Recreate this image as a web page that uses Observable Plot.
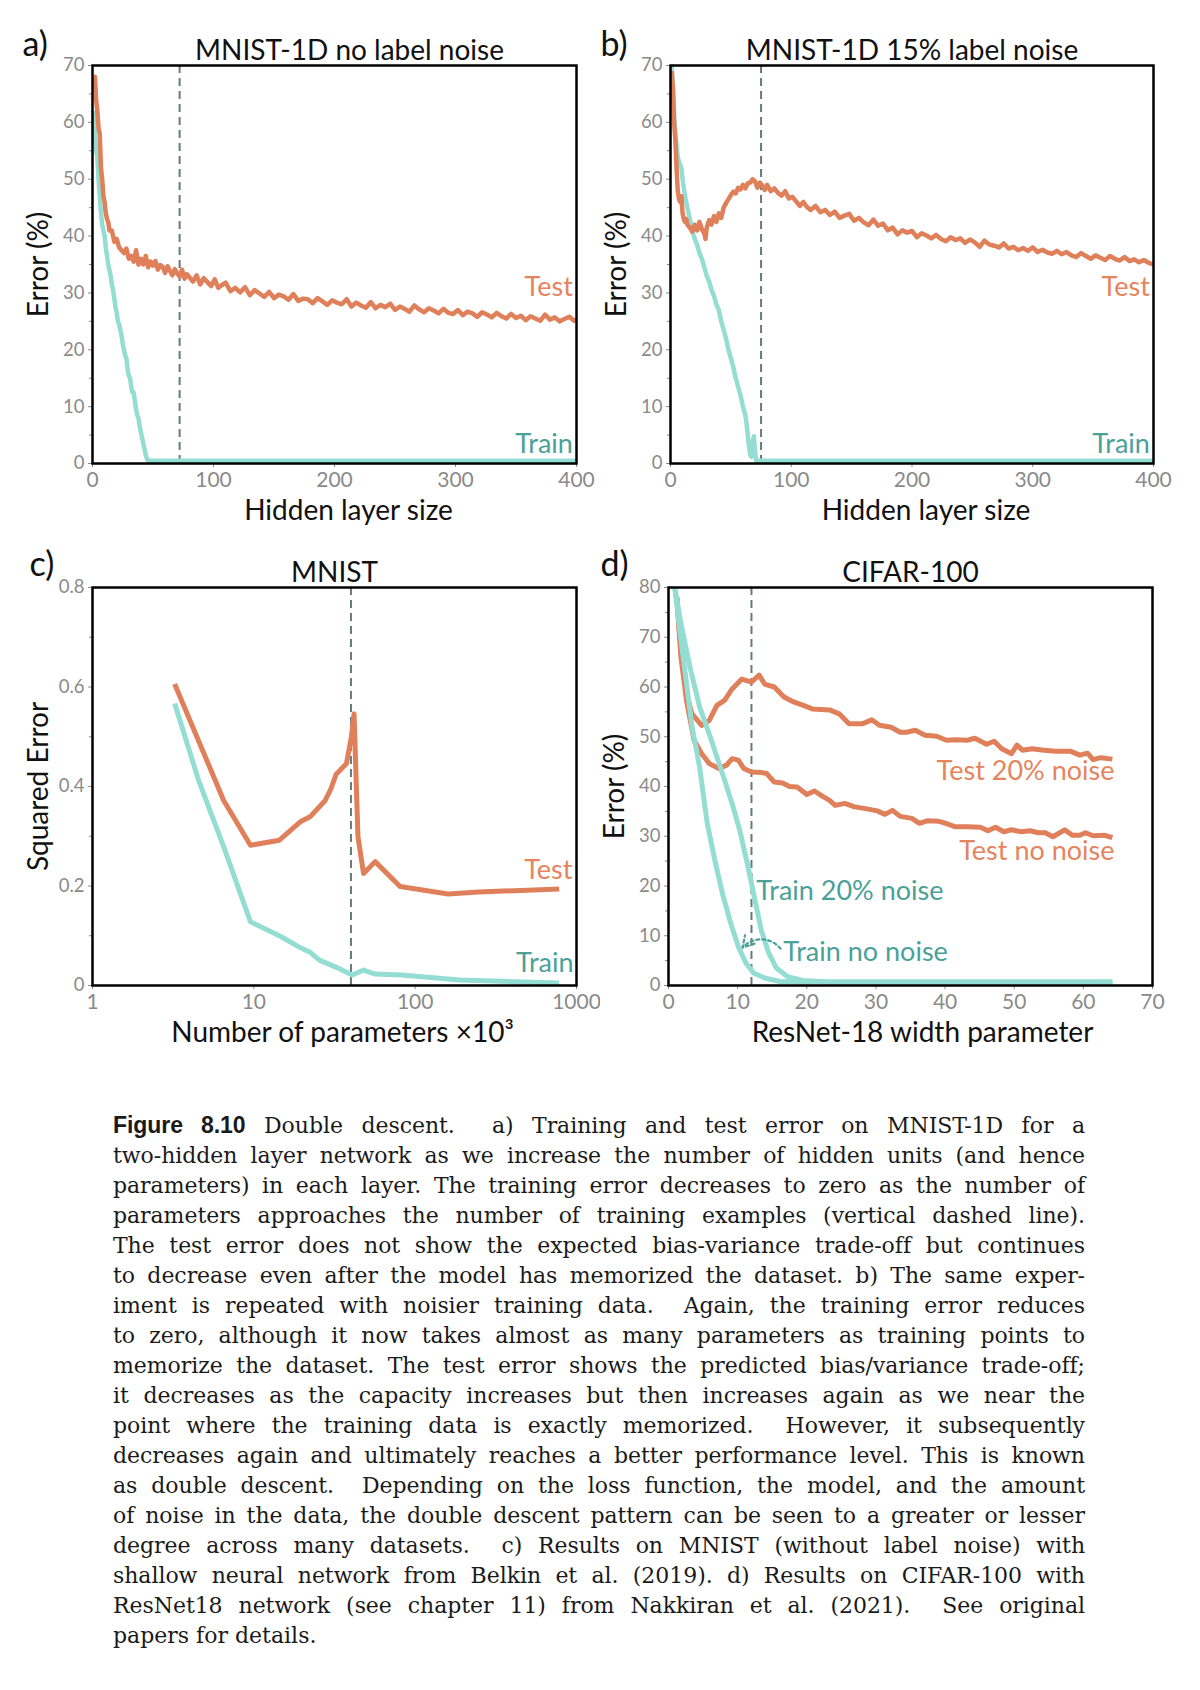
<!DOCTYPE html>
<html><head><meta charset="utf-8">
<script src="https://cdn.jsdelivr.net/npm/d3@7"></script>
<script src="https://cdn.jsdelivr.net/npm/@observablehq/plot@0.6"></script>
<style>
body{margin:0;background:#fff;}
#page{position:relative;width:1200px;height:1690px;background:#fff;overflow:hidden;}
.panel{position:absolute;}
#caption{position:absolute;left:113px;top:1110px;width:972px;font-family:"DejaVu Serif","Liberation Serif",serif;font-size:22px;line-height:30px;color:#1a1a1a;}
#caption .ln{text-align:justify;text-align-last:justify;}
#caption .ln.last{text-align-last:left;}
#caption .ln span.m{white-space:nowrap;}
#caption b{font-family:"Liberation Sans","DejaVu Sans",sans-serif;font-weight:bold;font-size:23px;}
</style>
</head><body>
<div id="page">
  <div class="panel" id="pa" style="left:0;top:0"></div>
  <div class="panel" id="pb" style="left:600px;top:0"></div>
  <div class="panel" id="pc" style="left:0;top:530px"></div>
  <div class="panel" id="pd" style="left:600px;top:530px"></div>
  <div id="caption"></div>
</div>
<script>
// ---------- DATA ----------
// Panel a: MNIST-1D no label noise  [hidden layer size, error %]
const aTest = [[1,68],[2,68],[3,64],[4,62],[5,59],[6,58],[7,52],[8,50],[9,47],[10,46],[11,44],[12,43],[13,42.5],[14,41],[16,41],[18,39],[20,39.5],[22,38],[24,37.5],[26,37],[28,37.8],[30,36],[32,36.5],[34,35.5],[36,37.5],[38,35],[40,36],[42,35],[44,36.5],[46,34.5],[48,35.5],
  [50,34.8],[52,35.6],[54,34.1],[56,34.9],[58,34.6],[60,33.5],[62,34.7],[64,33.9],[66,33.1],[68,34.2],[70,33.4],[72,32.9],[74,34.1],[76,32.5],[78,33.3],[80,32.8],
  [83,32.0],[86,33.1],[89,31.5],[92,32.6],[95,31.9],[98,31.2],[101,32.4],[104,30.9],[107,31.4],[110,31.8],
  [114,30.3],[118,30.9],[122,30.1],[126,31.0],[130,29.6],[134,30.5],[138,29.9],[142,29.3],[146,30.2],[150,29.1],
  [154,29.7],[158,29.4],[162,28.8],[166,29.8],[170,28.6],[174,29.0],[178,28.9],[182,28.2],[186,29.1],[190,28.5],
  [194,27.9],[198,28.7],[202,28.3],[206,28.0],[210,28.9],[214,27.6],[218,28.3],[222,27.8],[226,27.4],[230,28.4],
  [234,27.3],[238,27.9],[242,27.5],[246,28.1],[250,27.0],[254,27.6],[258,27.2],[262,26.7],[266,27.8],[270,27.1],
  [274,26.6],[278,27.3],[282,26.9],[286,26.4],[290,27.2],[294,26.5],[298,26.3],[302,27.0],[306,26.1],[310,26.7],
  [314,26.4],[318,25.8],[322,26.6],[326,26.2],[330,25.7],[334,26.5],[338,25.9],[342,25.5],[346,26.3],[350,25.6],
  [354,26.0],[358,25.2],[362,25.9],[366,25.5],[370,25.1],[374,26.2],[378,25.3],[382,25.7],[386,25.0],[390,25.4],
  [394,25.8],[398,25.1],[400,25.3]];
const aTrain = [[1,62],[2,58],[3,55],[4,54],[5,50],[6,47],[7,44],[8,42],[9,41],[10,40],[11,38],[12,36.5],[13,35],[14,34],[15,33],[16,31.5],[17,30.5],[18,29],[19,27.5],[20,26.5],[21,25],[22,24.5],[23,23.5],[24,22.5],[25,21],[26,20],[27,19],[28,18.5],[29,16.5],[30,15.5],[31,15],[32,13.5],[33,12.5],[34,12.5],[35,11],[36,9.5],[37,8.5],[38,8],[39,6.5],[40,5.5],[41,4.5],[42,3.5],[43,2.5],[44,1.5],[45,0.8],[46,0.5],[400,0.5]];
const aDash = 72;

// Panel b: MNIST-1D 15% label noise
const bTest = [[1,69],[2,66],[3,60],[4,57],[5,52],[6,48],[7,46.5],[8,46],[9,47],[10,44],[11,43],[12,42.5],[13,43],[14,42],[16,41.5],[18,40.8],[20,42],[22,41],[24,42.5],[26,41.2],[28,40.5],[29,39.5],[30,41.5],[32,42.8],[34,42],[36,43.5],[38,42.5],[40,44],[42,43.2],[44,45],[46,45.8],[48,46.5],[50,47.2],[52,47.8],[54,47.5],[56,48.5],[58,48.2],[60,49],[62,48.4],[64,49.3],[66,49.4],[68,50],
  [70,49.6],[72,48.5],[74,49.4],[76,48.9],[78,48.1],[80,49.0],[83,47.9],[86,48.4],[89,47.6],[92,47.1],[95,47.9],[98,46.6],[101,46.9],[104,46.1],[107,45.3],[110,46.0],[113,45.1],[116,44.6],[120,45.3],[124,44.2],[128,44.6],[132,43.7],[136,44.3],[140,43.2],[144,43.6],[148,43.9],[152,42.7],[156,43.2],[160,42.4],[164,41.9],[168,42.9],[172,41.8],[176,42.2],[180,41.0],[184,41.5],[188,40.3],[192,41.0],[196,40.6],[200,40.9],[204,39.8],[208,40.5],[212,40.1],[216,39.6],[220,40.2],[224,39.5],[228,39.1],[232,39.8],[236,39.3],[240,39.6],[244,38.8],[248,39.4],[252,38.9],[256,38.1],[260,39.2],[264,38.5],[268,38.3],[272,38.0],[276,38.7],[280,37.8],[284,38.1],[288,37.5],[292,37.9],[296,37.4],[300,38.0],[304,37.2],[308,37.6],[312,37.1],[316,36.9],[320,37.4],[324,36.8],[328,37.2],[332,36.6],[336,36.3],[340,37.0],[344,36.5],[348,36.0],[352,36.6],[356,36.2],[360,35.8],[364,36.5],[368,36.0],[372,35.7],[376,36.3],[380,35.6],[384,35.9],[388,35.4],[392,35.8],[396,35.3],[400,35.0]];
const bTrain = [[1,70],[2,66],[3,61],[4,58],[5,56],[6,54],[7,53],[8,52.5],[9,52],[10,50],[11,48.5],[12,47],[13,46],[14,45],[15,44],[16,43],[18,41],[20,39.5],[22,38.5],[24,37],[26,36],[28,34.5],[30,33],[32,32],[34,30.5],[36,29.5],[38,28],[40,27],[42,25],[44,23.5],[46,22],[48,20],[50,18.5],[52,17],[54,15],[56,13.5],[58,12],[60,10],[62,8.5],[63,7],[64,5],[65,3],[66,1.5],[67,1.2],[68,3.5],[69,4.8],[70,2],[71,0.5],[400,0.5]];
const bDash = 75;

// Panel c: MNIST (parameters ×10^3, squared error)
const cTestX = [3.23,6.5,9.53,14.4,19.4,22.3,27.7,30.1,32.3,37.5,40.2,41.8,44.2,47.9,56.5,80.6,160,247,781];
const cTestY = [0.606,0.372,0.282,0.292,0.329,0.339,0.372,0.396,0.424,0.446,0.499,0.546,0.299,0.225,0.249,0.199,0.184,0.188,0.194];
const cTrainX = [3.23,4.55,6.5,9.53,14.8,18.9,22.3,25.5,32.7,40.7,47.9,56.5,82.8,188,781];
const cTrainY = [0.567,0.412,0.279,0.128,0.098,0.078,0.067,0.051,0.036,0.021,0.031,0.023,0.021,0.011,0.005];
const cDash = 40;

// Panel d: CIFAR-100, ResNet-18 width parameter
const dTest20X = [1.2,1.8,2.6,3.4,4.8,5.9,7,8.1,9.2,10.6,12,13.1,13.9,15.3,16.7,18.1,19.5,20.8,23.3,24.7,26.1,28,29.4,30.5,32.2,33.5,34.4,35.7,37.1,38.8,40.2,41.5,43.2,44.3,46,47.1,48.2,49.6,50.4,51.2,52.6,54.3,56,58.1,59.5,60.6,61.4,62.5,64.2];
const dTest20Y = [78,67.3,58.6,54.6,52.3,53.3,56.3,57.3,59.6,61.6,61,62.4,60.6,60,58,57,56.3,55.6,55.4,54.6,52.6,52.6,53.4,52.3,51.9,50.9,50.9,51.3,50.3,50.1,49.3,49.4,49.3,49.7,48.5,49.1,47.6,46.6,48.3,47.3,47.6,47.3,47.1,47.1,46.3,46.7,45.4,45.8,45.5];
const dTest0X = [1.2,1.8,2.6,3.7,4.8,5.9,7.3,8.4,9.2,10.1,10.9,12,13.4,14.2,15.3,16.5,17.5,18.6,20,21.1,22.3,23.3,24.1,25.5,26.9,28.3,30.2,31.3,32.4,33.5,35.2,36.3,37.4,39.1,39.9,41.5,43.2,45.1,46.2,47.3,48.5,49.6,51,52.3,53.5,54.5,55.6,57.3,58.4,59.5,60.3,61.4,63.1,64.2];
const dTest0Y = [78,66,57.3,49.3,46.6,44.6,43.6,44.3,45.6,45.3,43.6,42.9,42.8,42.6,40.9,40.7,40,39.9,38.4,39.1,38,37.2,36.2,36.6,35.9,35.6,35.1,34.4,35.2,34,33.6,32.6,33.1,33,32.7,31.9,31.9,31.8,31.1,31.8,30.9,31.3,30.9,31.1,30.7,30.7,29.9,31.3,30.2,30.2,30.7,30.1,30.2,29.7];
const dTrain20X = [0.9,1.8,3.1,4.5,6.2,7.8,9.2,10.3,11.4,12.3,13.4,14.5,15.6,17.2,19.4,23.3,64.2];
const dTrain20Y = [80,72.7,64,56,49.3,42.6,36.6,31.2,24.5,18.5,11.2,6.5,3.5,1.8,1,0.7,0.7];
const dTrain0X = [0.9,2,3.4,4.5,5.6,6.7,7.8,9,10.1,11.2,12.3,13.9,16.1,18.9,64.2];
const dTrain0Y = [80,67.3,52,43.9,32.6,25.2,18.5,12.5,7.8,4.5,2.5,1.5,0.8,0.7,0.7];
const dDash = 12;

// Tick values
const ticksA_X = [0,100,200,300,400];
const ticksA_Y = [0,10,20,30,40,50,60,70];
const minorA_Y = [5,15,25,35,45,55,65];
const ticksC_X = [1,10,100,1000];
const ticksC_Y = [0,0.2,0.4,0.6,0.8];
const minorC_Y = [0.1,0.3,0.5,0.7];
const ticksD_X = [0,10,20,30,40,50,60,70];
const ticksD_Y = [0,10,20,30,40,50,60,70,80];
const minorD_Y = [5,15,25,35,45,55,65,75];

const captionLines = [
  "<b>Figure 8.10</b> Double descent.&nbsp; a) Training and test error on MNIST-1D for a",
  "two-hidden layer network as we increase the number of hidden units (and hence",
  "parameters) in each layer. The training error decreases to zero as the number of",
  "parameters approaches the number of training examples (vertical dashed line).",
  "The test error does not show the expected bias-variance trade-off but continues",
  "to decrease even after the model has memorized the dataset. b) The same exper-",
  "iment is repeated with noisier training data.&nbsp; Again, the training error reduces",
  "to zero, although it now takes almost as many parameters as training points to",
  "memorize the dataset. The test error shows the predicted bias/variance trade-off;",
  "it decreases as the capacity increases but then increases again as we near the",
  "point where the training data is exactly memorized.&nbsp; However, it subsequently",
  "decreases again and ultimately reaches a better performance level. This is known",
  "as double descent.&nbsp; Depending on the loss function, the model, and the amount",
  "of noise in the data, the double descent pattern can be seen to a greater or lesser",
  "degree across many datasets.&nbsp; c) Results on MNIST (without label noise) with",
  "shallow neural network from Belkin et al. (2019). d) Results on CIFAR-100 with",
  "ResNet18 network (see chapter 11) from Nakkiran et al. (2021).&nbsp; See original",
  "papers for details."
];

// ---------- STYLE ----------
const ORANGE = "#e0805a", ORANGE_T = "#e5845d";
const TEAL = "#93ddd3", TEAL_T = "#4aa198";
const DASHC = "#637b7b";
const FONT = "Lato, 'Open Sans', sans-serif";
const zipXY = (xs, ys) => xs.map((x, i) => ({x, y: ys[i]}));
const fromPairs = ps => ps.map(([x, y]) => ({x, y}));

function makePanel(o) {
  const marks = [
    Plot.ruleX([o.dash], {stroke: DASHC, strokeWidth: 2, strokeDasharray: "8,5"}),
    ...o.series.map(s => Plot.line(s.data, {x: "x", y: "y", stroke: s.color, strokeWidth: o.lw, strokeLinejoin: "round", strokeLinecap: "butt"})),
    Plot.axisY({ticks: o.yTicks, tickSize: 4, tickPadding: 4, fontSize: 18.5, tickFormat: d => String(d), label: null}),
    Plot.axisY({ticks: o.yMinor, tickSize: 3, tickFormat: () => "", label: null}),
    Plot.axisX({ticks: o.xTicks, tickSize: 4, tickPadding: 5, fontSize: 21, tickFormat: d => String(d), label: null}),
    Plot.frame({stroke: "#000", strokeWidth: 2.5}),
    Plot.text([o.letter], {frameAnchor: "top-left", dx: o.letterDx, dy: o.letterDy, textAnchor: "start", lineAnchor: "bottom", fontSize: 34, fill: "#111"}),
    Plot.text([o.title], {frameAnchor: "top", dx: o.titleDx || 0, dy: -6, textAnchor: "middle", lineAnchor: "bottom", fontSize: 28, fill: "#111"}),
    Plot.text([o.xLabel], {frameAnchor: "bottom", dx: o.xLabelDx || 0, dy: 56, textAnchor: "middle", lineAnchor: "bottom", fontSize: 28, fill: "#111"}),
    Plot.text([o.yLabel], {frameAnchor: "left", dx: -45, rotate: -90, textAnchor: "middle", lineAnchor: "bottom", fontSize: 28, fill: "#111"}),
    ...o.labels.map(l => Plot.text([l], {x: l.x, y: l.y, frameAnchor: l.frameAnchor, dx: l.dx || 0, text: l => l.text, textAnchor: l.anchor, lineAnchor: "middle", fontSize: 27, fill: l.color})),
    ...(o.extra || [])
  ];
  return Plot.plot({
    width: 600, height: 530,
    marginLeft: o.ml, marginRight: o.mr, marginTop: o.mt, marginBottom: o.mb,
    x: {type: o.xType || "linear", domain: o.xDomain},
    y: {domain: o.yDomain},
    style: {fontFamily: FONT, color: "#8a8a8a", background: "white", overflow: "visible"},
    marks
  });
}

document.getElementById("pa").append(makePanel({
  ml: 92, mr: 24, mt: 65, mb: 67,
  xDomain: [0, 400], yDomain: [0, 70], dash: aDash, lw: 4.5,
  series: [{data: fromPairs(aTrain), color: TEAL}, {data: fromPairs(aTest), color: ORANGE}],
  yTicks: ticksA_Y, yMinor: minorA_Y, xTicks: ticksA_X,
  letter: "a)", letterDx: -70, letterDy: -10,
  title: "MNIST-1D no label noise", titleDx: 15,
  xLabel: "Hidden layer size", xLabelDx: 14, yLabel: "Error (%)",
  labels: [{text: "Test", x: 397, y: 31, anchor: "end", color: ORANGE_T}, {text: "Train", x: 397, y: 3.3, anchor: "end", color: TEAL_T}]
}));

document.getElementById("pb").append(makePanel({
  ml: 70, mr: 47, mt: 65, mb: 67,
  xDomain: [0, 400], yDomain: [0, 70], dash: bDash, lw: 4.5,
  series: [{data: fromPairs(bTrain), color: TEAL}, {data: fromPairs(bTest), color: ORANGE}],
  yTicks: ticksA_Y, yMinor: minorA_Y, xTicks: ticksA_X,
  letter: "b)", letterDx: -70, letterDy: -10,
  title: "MNIST-1D 15% label noise",
  xLabel: "Hidden layer size", xLabelDx: 14, yLabel: "Error (%)",
  labels: [{text: "Test", x: 397, y: 31, anchor: "end", color: ORANGE_T}, {text: "Train", x: 397, y: 3.3, anchor: "end", color: TEAL_T}]
}));

document.getElementById("pc").append(makePanel({
  ml: 92, mr: 24, mt: 57, mb: 75,
  xType: "log", xDomain: [1, 1000], yDomain: [0, 0.8], dash: cDash, lw: 5,
  series: [{data: zipXY(cTrainX, cTrainY), color: TEAL}, {data: zipXY(cTestX, cTestY), color: ORANGE}],
  yTicks: ticksC_Y, yMinor: minorC_Y, xTicks: ticksC_X,
  letter: "c)", letterDx: -63, letterDy: -12,
  title: "MNIST",
  xLabel: "Number of parameters ×10³", xLabelDx: 8, yLabel: "Squared Error",
  labels: [{text: "Test", frameAnchor: "right", dx: -4, y: 0.231, anchor: "end", color: ORANGE_T}, {text: "Train", frameAnchor: "right", dx: -3, y: 0.044, anchor: "end", color: TEAL_T}]
}));

document.getElementById("pd").append(makePanel({
  ml: 68, mr: 48, mt: 57, mb: 75,
  xDomain: [0, 70], yDomain: [0, 80], dash: dDash, lw: 5,
  series: [{data: zipXY(dTest20X, dTest20Y), color: ORANGE}, {data: zipXY(dTest0X, dTest0Y), color: ORANGE}, {data: zipXY(dTrain20X, dTrain20Y), color: TEAL}, {data: zipXY(dTrain0X, dTrain0Y), color: TEAL}],
  yTicks: ticksD_Y, yMinor: minorD_Y, xTicks: ticksD_X,
  letter: "d)", letterDx: -68, letterDy: -12,
  title: "CIFAR-100",
  xLabel: "ResNet-18 width parameter", xLabelDx: 12, yLabel: "Error (%)",
  labels: [
    {text: "Test 20% noise", x: 64.5, y: 43, anchor: "end", color: ORANGE_T},
    {text: "Test no noise", x: 64.5, y: 27, anchor: "end", color: ORANGE_T},
    {text: "Train 20% noise", x: 12.7, y: 19, anchor: "start", color: TEAL_T},
    {text: "Train no noise", x: 16.6, y: 6.6, anchor: "start", color: TEAL_T}
  ],
  extra: [Plot.arrow([{x1: 16.2, y1: 7.4, x2: 10.7, y2: 7.6}], {x1: "x1", y1: "y1", x2: "x2", y2: "y2", bend: -50, stroke: TEAL_T, strokeWidth: 2.2, strokeDasharray: "3,3", headLength: 9})]
}));

// caption: one justified line per source line; shrink letter-spacing if a line is too long
const cap = document.getElementById("caption");
const MAXW = 968;
captionLines.forEach((t, i) => {
  const d = document.createElement("div");
  d.className = "ln" + (i === captionLines.length - 1 ? " last" : "");
  const s = document.createElement("span");
  s.className = "m";
  s.innerHTML = t;
  d.append(s);
  cap.append(d);
  const w = s.getBoundingClientRect().width;
  if (w > MAXW) {
    const n = s.textContent.length;
    d.style.letterSpacing = ((MAXW - w) / n).toFixed(3) + "px";
  }
  s.classList.remove("m");
});
</script>
</body></html>
